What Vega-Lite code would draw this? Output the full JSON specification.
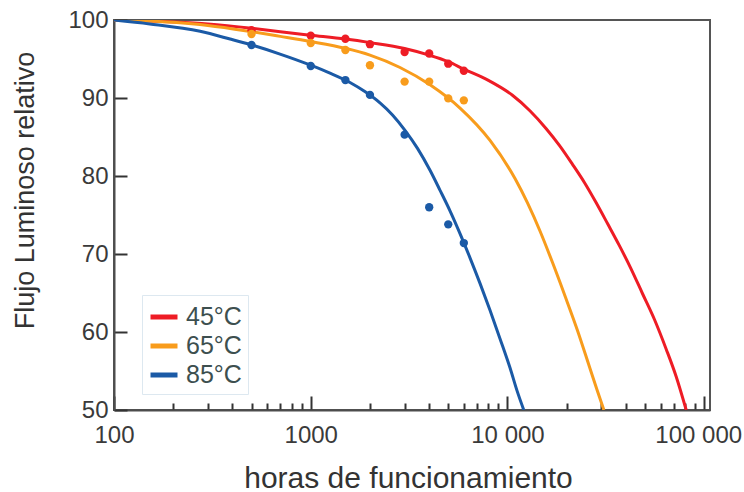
{
  "$schema": "https://vega.github.io/schema/vega-lite/v6.json",
  "width": 596,
  "height": 390,
  "autosize": {"type": "none"},
  "padding": {"left": 114, "top": 20, "right": 34, "bottom": 82},
  "background": "white",
  "config": {
    "font": "Liberation Sans",
    "view": {"stroke": "#555555", "strokeWidth": 2}
  },
  "datasets": {
    "curva": [
      {"serie": "45°C", "t": 100, "v": 100}, {"serie": "45°C", "t": 200, "v": 99.75}, {"serie": "45°C", "t": 300, "v": 99.5},
      {"serie": "45°C", "t": 500, "v": 98.95}, {"serie": "45°C", "t": 700, "v": 98.5}, {"serie": "45°C", "t": 1000, "v": 98.05},
      {"serie": "45°C", "t": 1500, "v": 97.55}, {"serie": "45°C", "t": 2000, "v": 97.1}, {"serie": "45°C", "t": 3000, "v": 96.35},
      {"serie": "45°C", "t": 4000, "v": 95.5}, {"serie": "45°C", "t": 5000, "v": 94.65}, {"serie": "45°C", "t": 6000, "v": 93.7},
      {"serie": "45°C", "t": 8000, "v": 92.26}, {"serie": "45°C", "t": 10600, "v": 90.35}, {"serie": "45°C", "t": 13000, "v": 88.37},
      {"serie": "45°C", "t": 15700, "v": 86.1}, {"serie": "45°C", "t": 18400, "v": 83.9}, {"serie": "45°C", "t": 21400, "v": 81.5},
      {"serie": "45°C", "t": 24600, "v": 79.17}, {"serie": "45°C", "t": 28200, "v": 76.6}, {"serie": "45°C", "t": 32300, "v": 73.87},
      {"serie": "45°C", "t": 37000, "v": 71.1}, {"serie": "45°C", "t": 42300, "v": 68.2}, {"serie": "45°C", "t": 48400, "v": 65.0},
      {"serie": "45°C", "t": 56000, "v": 61.54}, {"serie": "45°C", "t": 64100, "v": 57.8}, {"serie": "45°C", "t": 72000, "v": 54.3},
      {"serie": "45°C", "t": 81000, "v": 50},
      {"serie": "65°C", "t": 100, "v": 100}, {"serie": "65°C", "t": 200, "v": 99.7}, {"serie": "65°C", "t": 300, "v": 99.3},
      {"serie": "65°C", "t": 500, "v": 98.5}, {"serie": "65°C", "t": 700, "v": 97.9}, {"serie": "65°C", "t": 1000, "v": 97.24},
      {"serie": "65°C", "t": 1500, "v": 96.37}, {"serie": "65°C", "t": 2000, "v": 95.5}, {"serie": "65°C", "t": 2843, "v": 93.91},
      {"serie": "65°C", "t": 4039, "v": 91.69}, {"serie": "65°C", "t": 5738, "v": 88.71}, {"serie": "65°C", "t": 8152, "v": 84.56},
      {"serie": "65°C", "t": 10920, "v": 79.68}, {"serie": "65°C", "t": 12640, "v": 76.55}, {"serie": "65°C", "t": 14630, "v": 72.95},
      {"serie": "65°C", "t": 16940, "v": 68.9}, {"serie": "65°C", "t": 19610, "v": 64.62}, {"serie": "65°C", "t": 22690, "v": 60.2},
      {"serie": "65°C", "t": 26270, "v": 55.32}, {"serie": "65°C", "t": 28510, "v": 52.6}, {"serie": "65°C", "t": 30900, "v": 50},
      {"serie": "85°C", "t": 100, "v": 100}, {"serie": "85°C", "t": 152, "v": 99.5}, {"serie": "85°C", "t": 274, "v": 98.55},
      {"serie": "85°C", "t": 389, "v": 97.56}, {"serie": "85°C", "t": 491, "v": 96.86}, {"serie": "85°C", "t": 698, "v": 95.63},
      {"serie": "85°C", "t": 991, "v": 94.24}, {"serie": "85°C", "t": 1253, "v": 93.19}, {"serie": "85°C", "t": 1583, "v": 91.99},
      {"serie": "85°C", "t": 1884, "v": 90.83}, {"serie": "85°C", "t": 2249, "v": 89.38}, {"serie": "85°C", "t": 2604, "v": 87.83},
      {"serie": "85°C", "t": 3014, "v": 85.86}, {"serie": "85°C", "t": 3489, "v": 83.54}, {"serie": "85°C", "t": 4039, "v": 80.73},
      {"serie": "85°C", "t": 4528, "v": 78.23}, {"serie": "85°C", "t": 5103, "v": 75.54}, {"serie": "85°C", "t": 5738, "v": 72.62},
      {"serie": "85°C", "t": 6449, "v": 69.51}, {"serie": "85°C", "t": 7252, "v": 66.23}, {"serie": "85°C", "t": 8152, "v": 62.78},
      {"serie": "85°C", "t": 9154, "v": 59.18}, {"serie": "85°C", "t": 10300, "v": 55.41}, {"serie": "85°C", "t": 11190, "v": 52.45},
      {"serie": "85°C", "t": 12100, "v": 50}
    ],
    "medida": [
      {"serie": "45°C", "t": 500, "v": 98.7}, {"serie": "45°C", "t": 1000, "v": 98.0}, {"serie": "45°C", "t": 1500, "v": 97.6},
      {"serie": "45°C", "t": 2000, "v": 96.9}, {"serie": "45°C", "t": 3000, "v": 95.9}, {"serie": "45°C", "t": 4000, "v": 95.7},
      {"serie": "45°C", "t": 5000, "v": 94.4}, {"serie": "45°C", "t": 6000, "v": 93.5},
      {"serie": "65°C", "t": 500, "v": 98.2}, {"serie": "65°C", "t": 1000, "v": 97.05}, {"serie": "65°C", "t": 1500, "v": 96.15},
      {"serie": "65°C", "t": 2000, "v": 94.2}, {"serie": "65°C", "t": 3000, "v": 92.1}, {"serie": "65°C", "t": 4000, "v": 92.1},
      {"serie": "65°C", "t": 5000, "v": 89.95}, {"serie": "65°C", "t": 6000, "v": 89.7},
      {"serie": "85°C", "t": 500, "v": 96.8}, {"serie": "85°C", "t": 1000, "v": 94.1}, {"serie": "85°C", "t": 1500, "v": 92.3},
      {"serie": "85°C", "t": 2000, "v": 90.4}, {"serie": "85°C", "t": 3000, "v": 85.3}, {"serie": "85°C", "t": 4000, "v": 76.0},
      {"serie": "85°C", "t": 5000, "v": 73.8}, {"serie": "85°C", "t": 6000, "v": 71.4}
    ]
  },
  "encoding": {
    "x": {
      "field": "t", "type": "quantitative",
      "scale": {"type": "log", "domain": [100, 107000], "nice": false},
      "axis": {
        "title": "horas de funcionamiento",
        "values": [100, 200, 300, 400, 500, 600, 700, 800, 900, 1000, 2000, 3000, 4000, 5000, 6000, 7000, 8000, 9000, 10000, 20000, 30000, 40000, 50000, 60000, 70000, 80000, 90000, 100000],
        "labelExpr": "datum.value == 100 ? '100' : datum.value == 1000 ? '1000' : datum.value == 10000 ? '10 000' : datum.value == 100000 ? '100 000' : ''",
        "tickSize": {"condition": {"test": "datum.value == 100 || datum.value == 1000 || datum.value == 10000 || datum.value == 100000", "value": -14}, "value": -7},
        "labelOffset": {"condition": {"test": "datum.value == 100000", "value": -6}, "value": 0},
        "tickColor": "#333333", "tickWidth": 2,
        "domainColor": "#4d4d4d", "domainWidth": 2,
        "labelFontSize": 24, "labelColor": "#3a3a3a", "labelPadding": 27, "labelBaseline": "top",
        "labelFlush": false, "labelOverlap": false, "labelBound": false,
        "titleFontSize": 30, "titleFontWeight": "normal", "titleColor": "#333333",
        "titleBaseline": "alphabetic", "titleY": 77, "titleX": 294,
        "grid": false
      }
    },
    "y": {
      "field": "v", "type": "quantitative",
      "scale": {"domain": [50, 100], "nice": false, "zero": false},
      "axis": {
        "title": "Flujo Luminoso relativo",
        "values": [50, 60, 70, 80, 90, 100],
        "tickSize": -13, "tickColor": "#333333", "tickWidth": 2,
        "domainColor": "#4d4d4d", "domainWidth": 2,
        "labelFontSize": 24, "labelColor": "#3a3a3a", "labelPadding": 19,
        "labelFlush": false, "labelOverlap": false, "labelBound": false,
        "titleFontSize": 27, "titleFontWeight": "normal", "titleColor": "#333333",
        "titleBaseline": "alphabetic", "titleX": -81, "titleY": 170, "titleAlign": "center", "titleAngle": 270,
        "grid": false
      }
    },
    "color": {
      "field": "serie", "type": "nominal",
      "scale": {"domain": ["45°C", "65°C", "85°C"], "range": ["#ee1c25", "#f89c1c", "#1b5aa6"]},
      "legend": {
        "title": null,
        "orient": "none", "legendX": 28, "legendY": 275,
        "symbolType": "stroke", "symbolSize": 729, "symbolStrokeWidth": 5,
        "labelFontSize": 25, "labelColor": "#3d4f4f", "labelOffset": 6,
        "rowPadding": 0, "padding": 6,
        "strokeColor": "#dde8f0", "fillColor": "white"
      }
    }
  },
  "layer": [
    {
      "data": {"name": "curva"},
      "mark": {"type": "line", "strokeWidth": 3, "interpolate": "monotone", "clip": true}
    },
    {
      "data": {"name": "medida"},
      "mark": {"type": "circle", "size": 70, "opacity": 1}
    }
  ]
}
